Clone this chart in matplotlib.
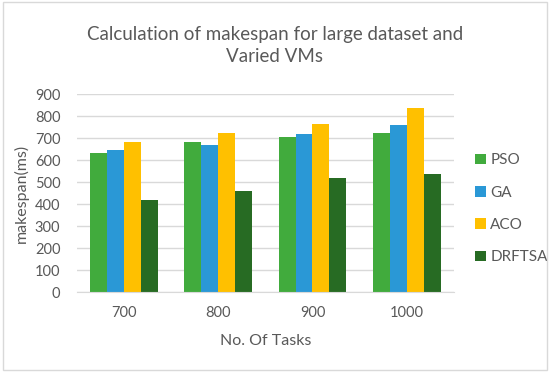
import numpy as np
import matplotlib.pyplot as plt
from matplotlib.patches import Rectangle

tasks = ["700", "800", "900", "1000"]
pso = [630, 680, 705, 723]
ga = [648, 670, 718, 759]
aco = [683, 721, 762, 838]
drftsa = [418, 459, 518, 536]

series = [("PSO", pso, "#41ab3d"), ("GA", ga, "#2a98d6"),
          ("ACO", aco, "#ffc000"), ("DRFTSA", drftsa, "#276b23")]

plt.rcParams['font.family'] = ['Lato', 'DejaVu Sans']
txt = "#595959"

fig = plt.figure(figsize=(5.5, 3.72), dpi=100)
ax = fig.add_axes([0.14, 0.215, 0.685, 0.532])

x = np.arange(len(tasks))
w = 0.18
for i, (name, vals, col) in enumerate(series):
    ax.bar(x + (i - 1.5) * w, vals, w, color=col, label=name, zorder=2)

ax.set_ylim(0, 900)
ax.set_xlim(-0.5, 3.5)
ax.set_yticks(range(0, 901, 100))
ax.set_xticks(x)
ax.set_xticklabels(tasks)
ax.yaxis.grid(True, color="#d9d9d9", linewidth=1, zorder=0)
for s in ax.spines.values():
    s.set_visible(False)
ax.spines['bottom'].set_visible(True)
ax.spines['bottom'].set_color("#d9d9d9")
ax.tick_params(length=0, colors=txt, labelsize=10.5)
ax.tick_params(axis='x', pad=10)
ax.tick_params(axis='y', pad=12)

ax.set_ylabel("makespan(ms)", fontsize=11.5, color=txt, labelpad=4)
ax.set_xlabel("No. Of Tasks", fontsize=11.5, color=txt, labelpad=10)

fig.text(0.5, 0.878, "Calculation of makespan for large dataset and\nVaried VMs",
         ha="center", va="center", fontsize=13.5, color=txt, linespacing=1.4)

ax.legend(loc="center left", bbox_to_anchor=(1.02, 0.42), frameon=False,
          fontsize=11, labelcolor=txt, handlelength=0.7, handleheight=0.7,
          handletextpad=0.3, labelspacing=1.2)

fig.patches.append(Rectangle((0.005, 0.005), 0.99, 0.99, transform=fig.transFigure,
                             fill=False, edgecolor="#d9d9d9", linewidth=1))

fig.savefig("out.png", dpi=100)
